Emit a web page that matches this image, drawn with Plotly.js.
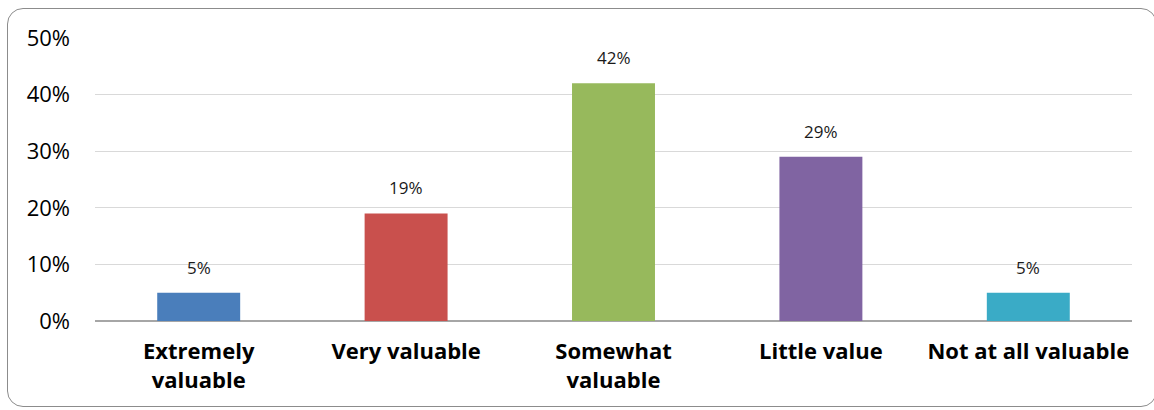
<!DOCTYPE html>
<html>
<head>
<meta charset="utf-8">
<script src="https://cdn.plot.ly/plotly-3.0.1.min.js"></script>
<style>
  html, body { margin: 0; padding: 0; background: #ffffff; }
  #wrap { position: relative; width: 1154px; height: 410px; overflow: hidden; }
  #frame {
    position: absolute; left: 7px; top: 8px; width: 1150px; height: 399px;
    border: 1.5px solid #8c8c8c; border-radius: 16px; box-sizing: border-box;
    pointer-events: none;
  }
  #chart { position: absolute; left: 0; top: 0; width: 1154px; height: 410px; }
</style>
</head>
<body>
<div id="wrap">
  <div id="chart"></div>
  <div id="frame"></div>
</div>
<script>
// Perceived value ratings (share of respondents)
const categories = ["Extremely<br>valuable", "Very valuable", "Somewhat<br>valuable", "Little value", "Not at all valuable"];
const shares = [0.05, 0.19, 0.42, 0.29, 0.05];
const barColors = ["#4a7ebb", "#c9504d", "#97b95c", "#8064a2", "#3aabc6"];
const tickValues = [0, 0.1, 0.2, 0.3, 0.4, 0.5];
const tickLabels = ["0%", "10%", "20%", "30%", "40%", "50%"];

const font = "'Open Sans', 'Noto Sans', sans-serif";

const trace = {
  type: "bar",
  x: categories,
  y: shares,
  marker: { color: barColors, line: { width: 0 } },
  hoverinfo: "skip"
};

// value labels above each bar
const labels = categories.map((c, i) => ({
  x: c, y: shares[i], xref: "x", yref: "y",
  text: Math.round(shares[i] * 100) + "%",
  showarrow: false, yanchor: "bottom", yshift: 12,
  font: { family: font, size: 17, color: "#1a1a1a" }
}));

const layout = {
  width: 1154, height: 410,
  margin: { l: 95, r: 22, t: 38, b: 89 },
  paper_bgcolor: "rgba(0,0,0,0)",
  plot_bgcolor: "rgba(0,0,0,0)",
  bargap: 0.6,
  showlegend: false,
  xaxis: {
    showgrid: false, zeroline: false,
    showline: false,
    ticks: "", ticklabelstandoff: 15,
    tickfont: { family: font, size: 22, color: "#000000", weight: "bold" }
  },
  yaxis: {
    range: [0, 0.5],
    tickvals: tickValues, ticktext: tickLabels,
    showgrid: true, gridcolor: "#d9d9d9", gridwidth: 1,
    zeroline: true, zerolinecolor: "#a6a6a6", zerolinewidth: 1.5,
    showline: false, ticks: "", ticklabelstandoff: 24,
    tickfont: { family: font, size: 22, color: "#000000" }
  },
  annotations: labels
};

Plotly.newPlot("chart", [trace], layout, { displayModeBar: false, staticPlot: true });
</script>
</body>
</html>
